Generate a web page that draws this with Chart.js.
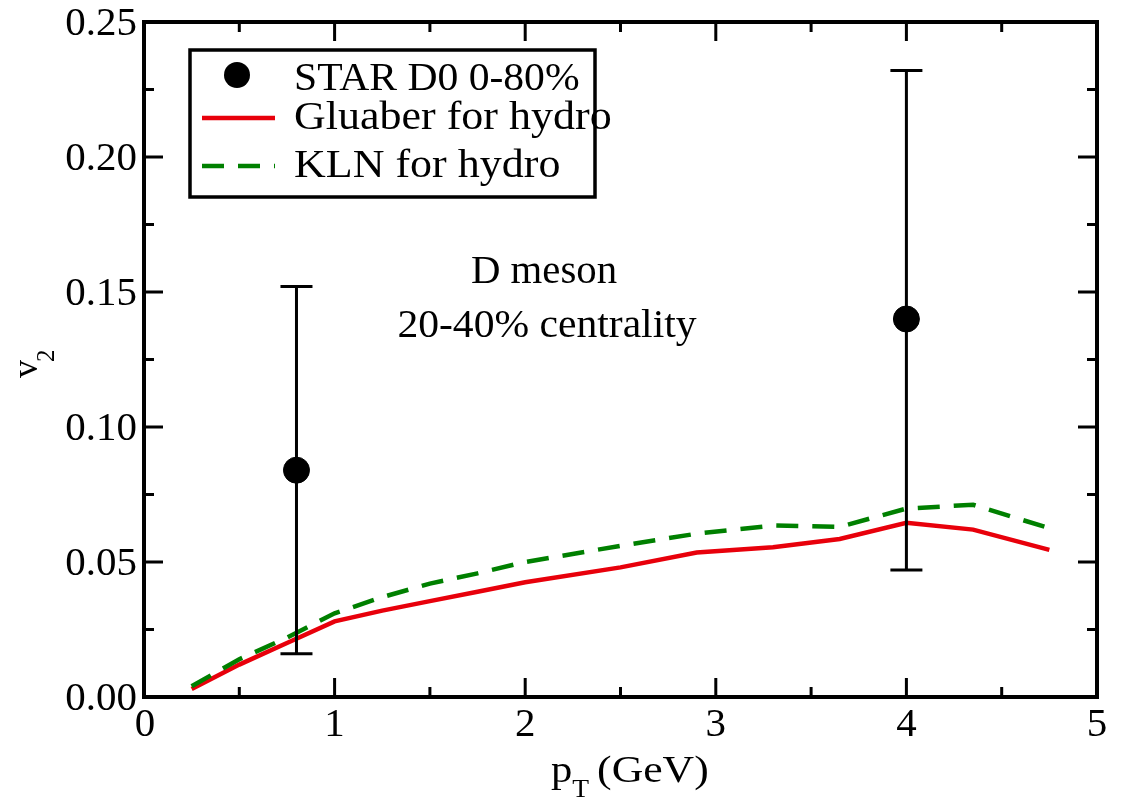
<!DOCTYPE html>
<html>
<head>
<meta charset="utf-8">
<script src="https://cdn.jsdelivr.net/npm/chart.js@4"></script>
<style>
  html, body { margin: 0; padding: 0; background: #fff; }
  #wrap { width: 1135px; height: 799px; }
</style>
</head>
<body>
<div id="wrap"><canvas id="v2Chart"></canvas></div>
<script>
// pT grid of the hydro curves
const pt = [0.25, 0.5, 0.75, 1.0, 1.25, 1.5, 1.75, 2.0, 2.5, 2.9, 3.3, 3.65, 4.0, 4.35, 4.75];
const glauber = [0.003, 0.012, 0.020, 0.028, 0.032, 0.0355, 0.039, 0.0425, 0.048, 0.0535, 0.0555, 0.0585, 0.0645, 0.062, 0.0545];
const kln = [0.004, 0.014, 0.022, 0.031, 0.037, 0.042, 0.0458, 0.050, 0.056, 0.0605, 0.0635, 0.063, 0.0698, 0.0712, 0.0625];

// STAR D0 data with error bars
const starPt = [0.8, 4.0];
const starV2 = [0.084, 0.14];
const starLow = [0.016, 0.047];
const starHigh = [0.152, 0.232];

const xTicks = [0, 1, 2, 3, 4, 5];
const yTicks = [0, 0.05, 0.10, 0.15, 0.20, 0.25];

const legendLabels = ['STAR D0 0-80%', 'Gluaber for hydro', 'KLN for hydro'];
const noteLines = ['D meson', '20-40% centrality'];

const serif = '"Liberation Serif", "Times New Roman", serif';

// text with a slight horizontal stretch, like the original's font
function txt(ctx, s, x, y, size, align, sx) {
    sx = sx || 1;
    ctx.save();
    ctx.font = size + 'px ' + serif;
    ctx.textAlign = align || 'left';
    ctx.translate(x, y);
    ctx.scale(sx, 1);
    ctx.fillText(s, 0, 0);
    const w = ctx.measureText(s).width * sx;
    ctx.restore();
    return w;
}

const framePlugin = {
    id: 'frame',
    afterDatasetsDraw(chart) {
        const ctx = chart.ctx;
        const a = chart.chartArea;
        const xs = chart.scales.x, ys = chart.scales.y;
        ctx.save();

        // error bars
        ctx.strokeStyle = '#000';
        ctx.lineWidth = 3;
        starPt.forEach((p, i) => {
            const px = xs.getPixelForValue(p);
            const top = ys.getPixelForValue(starHigh[i]);
            const bot = ys.getPixelForValue(starLow[i]);
            ctx.beginPath();
            ctx.moveTo(px, top); ctx.lineTo(px, bot);
            ctx.moveTo(px - 16, top); ctx.lineTo(px + 16, top);
            ctx.moveTo(px - 16, bot); ctx.lineTo(px + 16, bot);
            ctx.stroke();
        });

        // frame
        ctx.lineWidth = 4;
        ctx.strokeRect(a.left, a.top, a.right - a.left, a.bottom - a.top);

        // ticks, inward on all sides
        ctx.lineWidth = 3;
        for (let v = 0; v <= 5.001; v += 0.5) {
            const px = xs.getPixelForValue(v);
            const len = Math.abs(v - Math.round(v)) < 1e-6 ? 19 : 10;
            ctx.beginPath();
            ctx.moveTo(px, a.bottom); ctx.lineTo(px, a.bottom - len);
            ctx.moveTo(px, a.top); ctx.lineTo(px, a.top + len);
            ctx.stroke();
        }
        for (let k = 0; k <= 10; k++) {
            const py = ys.getPixelForValue(k * 0.025);
            const len = k % 2 === 0 ? 19 : 10;
            ctx.beginPath();
            ctx.moveTo(a.left, py); ctx.lineTo(a.left + len, py);
            ctx.moveTo(a.right, py); ctx.lineTo(a.right - len, py);
            ctx.stroke();
        }

        // tick labels
        ctx.fillStyle = '#000';
        ctx.textBaseline = 'alphabetic';
        xTicks.forEach(t => txt(ctx, String(t), xs.getPixelForValue(t) + (t === 0 ? 1 : 0), 736, 39, 'center', 1.05));
        yTicks.forEach(t => txt(ctx, t.toFixed(2), a.left - 7, ys.getPixelForValue(t) + 13, 39, 'right', 1.05));

        // axis titles with subscripts
        let x0 = 551;
        x0 += txt(ctx, 'p', x0, 782, 38, 'left', 1.12);
        x0 += txt(ctx, 'T', x0, 797, 25, 'left', 1.1) + 8;
        txt(ctx, '(GeV)', x0, 782, 38, 'left', 1.15);

        ctx.save();
        ctx.translate(37, 378);
        ctx.rotate(-Math.PI / 2);
        const vw = txt(ctx, 'v', 0, 0, 36, 'left');
        txt(ctx, '2', vw - 2, 17, 25, 'left');
        ctx.restore();

        // annotation
        txt(ctx, noteLines[0], 544, 283, 40, 'center', 1.02);
        txt(ctx, noteLines[1], 547, 337, 40, 'center', 1.04);

        // legend box
        ctx.lineWidth = 3.5;
        ctx.strokeRect(190, 50, 405, 147);
        ctx.beginPath();
        ctx.arc(237, 75, 13, 0, Math.PI * 2);
        ctx.fill();
        txt(ctx, legendLabels[0], 294, 90, 40, 'left', 1.04);

        ctx.strokeStyle = '#e8000b';
        ctx.lineWidth = 4.5;
        ctx.beginPath();
        ctx.moveTo(202, 118); ctx.lineTo(275, 118);
        ctx.stroke();
        txt(ctx, legendLabels[1], 294, 129, 40, 'left', 1.1);

        ctx.strokeStyle = '#008000';
        ctx.setLineDash([22, 14]);
        ctx.beginPath();
        ctx.moveTo(202, 166); ctx.lineTo(275, 166);
        ctx.stroke();
        ctx.setLineDash([]);
        txt(ctx, legendLabels[2], 294, 177, 40, 'left', 1.1);

        ctx.restore();
    }
};

const zeroFit = scale => {
    if (scale.isHorizontal()) scale.height = 0; else scale.width = 0;
};

new Chart(document.getElementById('v2Chart'), {
    type: 'scatter',
    data: {
        datasets: [{
            label: legendLabels[1],
            data: pt.map((p, i) => ({ x: p, y: glauber[i] })),
            showLine: true,
            borderColor: '#e8000b',
            borderWidth: 4.5,
            pointRadius: 0,
            fill: false,
            order: 2
        }, {
            label: legendLabels[2],
            data: pt.map((p, i) => ({ x: p, y: kln[i] })),
            showLine: true,
            borderColor: '#008000',
            borderWidth: 4.5,
            borderDash: [22, 14],
            pointRadius: 0,
            fill: false,
            order: 1
        }, {
            label: legendLabels[0],
            data: starPt.map((p, i) => ({ x: p, y: starV2[i] })),
            showLine: false,
            backgroundColor: '#000',
            borderColor: '#000',
            pointRadius: 13,
            order: 0
        }]
    },
    options: {
        responsive: true,
        maintainAspectRatio: false,
        animation: false,
        layout: { padding: { left: 144, right: 38, top: 22, bottom: 102 } },
        plugins: {
            legend: { display: false },
            tooltip: { enabled: false }
        },
        scales: {
            x: {
                type: 'linear',
                min: 0, max: 5,
                ticks: { display: false },
                grid: { display: false },
                border: { display: false },
                afterFit: zeroFit
            },
            y: {
                min: 0, max: 0.25,
                ticks: { display: false },
                grid: { display: false },
                border: { display: false },
                afterFit: zeroFit
            }
        }
    },
    plugins: [framePlugin]
});
</script>
</body>
</html>
